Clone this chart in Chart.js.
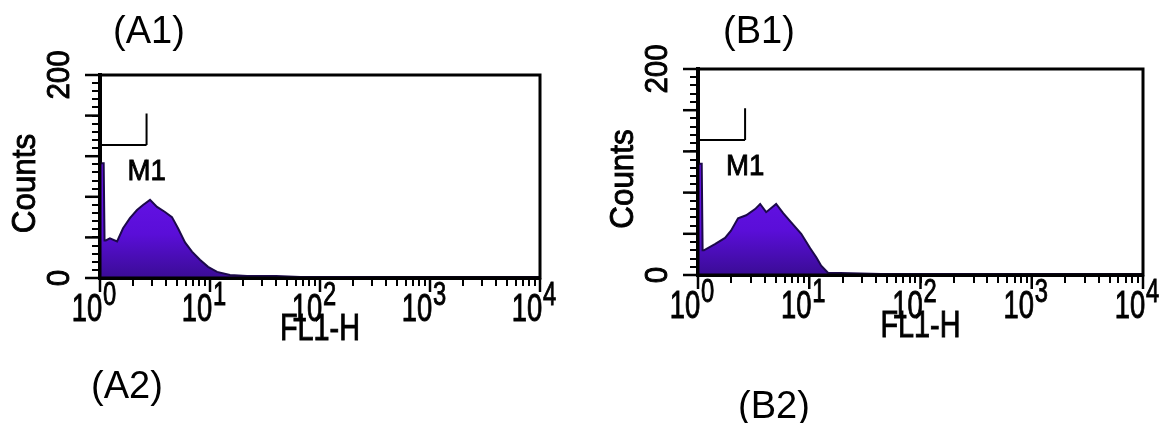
<!DOCTYPE html>
<html>
<head>
<meta charset="utf-8">
<script src="https://cdn.jsdelivr.net/npm/chart.js@4.4.1/dist/chart.umd.min.js"></script>
<style>
  body { margin: 0; background: #fff; width: 1175px; height: 423px; position: relative; overflow: hidden;
         font-family: "Liberation Sans", Arial, sans-serif; }
  canvas { position: absolute; top: 0; }
  .tag { position: absolute; font-size: 38px; line-height: 1; color: #000; white-space: nowrap; }
</style>
</head>
<body>
<canvas id="chartA" width="590" height="423" style="left:0"></canvas>
<canvas id="chartB" width="585" height="423" style="left:590px"></canvas>
<div class="tag" style="left:113px;top:11px">(A1)</div>
<div class="tag" style="left:723px;top:11px">(B1)</div>
<div class="tag" style="left:91px;top:366px">(A2)</div>
<div class="tag" style="left:738px;top:386px">(B2)</div>
<script>
// FL1-H channel values and counts
const fl1A    = [1, 1.08, 1.1, 1.13, 1.23, 1.43, 1.62, 1.87, 2.17, 2.46, 2.85, 3.30, 3.90, 4.51, 5.12, 5.93, 6.86, 8.1, 9.6, 11.6, 15.2, 21.7, 40, 66, 150, 535, 10000];
const countsA = [113, 113, 37, 37, 39, 36, 49, 59, 67, 72, 77, 70, 65, 60, 49, 35, 26, 18, 11, 6, 3, 2, 2, 1, 1, 0.5, 0.5];

const fl1B    = [1, 1.08, 1.1, 1.13, 1.42, 1.75, 1.98, 2.29, 2.71, 3.26, 3.62, 4.10, 5.04, 5.83, 6.88, 8.47, 10.2, 11.6, 12.8, 14.8, 19, 44, 150, 10000];
const countsB = [108, 108, 24, 24, 30, 36, 43, 55, 58, 64, 69, 61, 69, 60, 51, 40, 26, 17, 9, 2, 2, 1, 1, 0.5];

// axis ticks
const decades = [0, 1, 2, 3, 4];
const xMinorTicks = [];
decades.slice(0, 4).forEach(d => { for (let k = 1; k <= 9; k++) xMinorTicks.push(k * Math.pow(10, d)); });
xMinorTicks.push(10000);
const xMajorTicks = decades.map(d => Math.pow(10, d));
const yMinorTicks = [];
for (let v = 0; v <= 200; v += 8) yMinorTicks.push(v);
const yMajorTicks = [0, 40, 80, 120, 160, 200];
const yLabels = [0, 200];

// M1 marker
const m1End = 2.65;
const m1Level = 131;
const m1Top = 162;
const m1LabelY = 97;

const FONT = '"Liberation Sans", Arial, sans-serif';

function drawText(ctx, s, x, y, size, align, sx, rotate) {
    ctx.save();
    ctx.translate(x, y);
    if (rotate) ctx.rotate(-Math.PI / 2);
    ctx.scale(sx, 1);
    ctx.font = size + 'px ' + FONT;
    ctx.textAlign = align;
    ctx.textBaseline = rotate ? 'middle' : 'alphabetic';
    ctx.fillStyle = '#000';
    ctx.strokeStyle = '#000';
    ctx.lineWidth = 0.9;
    ctx.fillText(s, 0, 0);
    ctx.strokeText(s, 0, 0);
    ctx.restore();
}

function decorPlugin(opt) {
    return {
        id: 'decor',
        afterDraw(chart) {
            const { ctx, chartArea: a, scales: { x, y } } = chart;
            ctx.save();
            ctx.strokeStyle = '#000';
            // frame
            ctx.lineWidth = 3;
            ctx.strokeRect(a.left, a.top, a.right - a.left, a.bottom - a.top);
            // long ticks
            ctx.lineWidth = 2.5;
            xMajorTicks.forEach(v => {
                const px = x.getPixelForValue(v);
                ctx.beginPath(); ctx.moveTo(px, a.bottom); ctx.lineTo(px, a.bottom + 14); ctx.stroke();
            });
            yMajorTicks.forEach(v => {
                const py = y.getPixelForValue(v);
                ctx.beginPath(); ctx.moveTo(a.left, py); ctx.lineTo(a.left - 15, py); ctx.stroke();
            });
            // M1 gate
            const gx = x.getPixelForValue(m1End);
            const gy = y.getPixelForValue(m1Level);
            ctx.lineWidth = 2;
            ctx.beginPath();
            ctx.moveTo(a.left, gy); ctx.lineTo(gx, gy);
            ctx.moveTo(gx, y.getPixelForValue(m1Top)); ctx.lineTo(gx, gy);
            ctx.stroke();
            ctx.restore();
            drawText(ctx, 'M1', gx, y.getPixelForValue(m1LabelY), 30, 'center', 0.92, false);

            // y labels (rotated)
            yLabels.forEach(v => drawText(ctx, String(v), a.left - 40, y.getPixelForValue(v), 31, 'center', 0.95, true));
            drawText(ctx, 'Counts', a.left - 74, (a.top + a.bottom) / 2 + 7, 33, 'center', 0.95, true);

            // x labels 10^n
            const sx = 0.72;
            decades.forEach(d => {
                const px = x.getPixelForValue(Math.pow(10, d));
                ctx.font = '38px ' + FONT;
                const w10 = ctx.measureText('10').width * sx;
                ctx.font = '33px ' + FONT;
                const wSup = ctx.measureText(String(d)).width * sx;
                const start = px - 6 - (w10 + wSup + 1) / 2;
                drawText(ctx, '10', start, opt.labelBase, 38, 'left', sx, false);
                drawText(ctx, String(d), start + w10 + 1, opt.labelBase - 16, 33, 'left', sx, false);
            });
            drawText(ctx, 'FL1-H', (a.left + a.right) / 2, opt.titleBase, 36, 'center', 0.8, false);
        }
    };
}

function makeChart(id, fl1, counts, opt) {
    const ctx = document.getElementById(id).getContext('2d');
    return new Chart(ctx, {
        type: 'line',
        data: {
            datasets: [{
                data: fl1.map((v, i) => ({ x: v, y: counts[i] })),
                fill: 'origin',
                backgroundColor: (c) => {
                    const area = c.chart.chartArea;
                    if (!area) return '#5c0fdc';
                    const g = c.chart.ctx.createLinearGradient(0, area.bottom - 110, 0, area.bottom);
                    g.addColorStop(0, '#6a14ee');
                    g.addColorStop(0.6, '#5a0ed8');
                    g.addColorStop(1, '#3a0c95');
                    return g;
                },
                borderColor: '#1c0a4a',
                borderWidth: 2,
                pointRadius: 0,
                tension: 0
            }]
        },
        options: {
            responsive: false,
            animation: false,
            layout: { padding: { left: 0, top: opt.top, right: opt.right, bottom: opt.bottom } },
            plugins: { legend: { display: false }, tooltip: { enabled: false } },
            scales: {
                x: {
                    type: 'logarithmic',
                    min: 1,
                    max: 10000,
                    afterBuildTicks: s => { s.ticks = xMinorTicks.map(v => ({ value: v })); },
                    afterFit: s => { s.height = 40; },
                    ticks: { display: false },
                    grid: { drawOnChartArea: false, drawTicks: true, tickLength: 8, color: '#000', lineWidth: 2 },
                    border: { display: true, color: '#000', width: 4 }
                },
                y: {
                    type: 'linear',
                    min: 0,
                    max: 200,
                    afterBuildTicks: s => { s.ticks = yMinorTicks.map(v => ({ value: v })); },
                    afterFit: s => { s.width = opt.left; },
                    ticks: { display: false },
                    grid: { drawOnChartArea: false, drawTicks: true, tickLength: 8, color: '#000', lineWidth: 2 },
                    border: { display: true, color: '#000', width: 4 }
                }
            }
        },
        plugins: [decorPlugin(opt)]
    });
}

makeChart('chartA', fl1A, countsA, { left: 100, top: 75, right: 50, bottom: 105, labelBase: 321, titleBase: 340 });
makeChart('chartB', fl1B, countsB, { left: 108, top: 69, right: 32, bottom: 108, labelBase: 318, titleBase: 337 });
</script>
</body>
</html>
